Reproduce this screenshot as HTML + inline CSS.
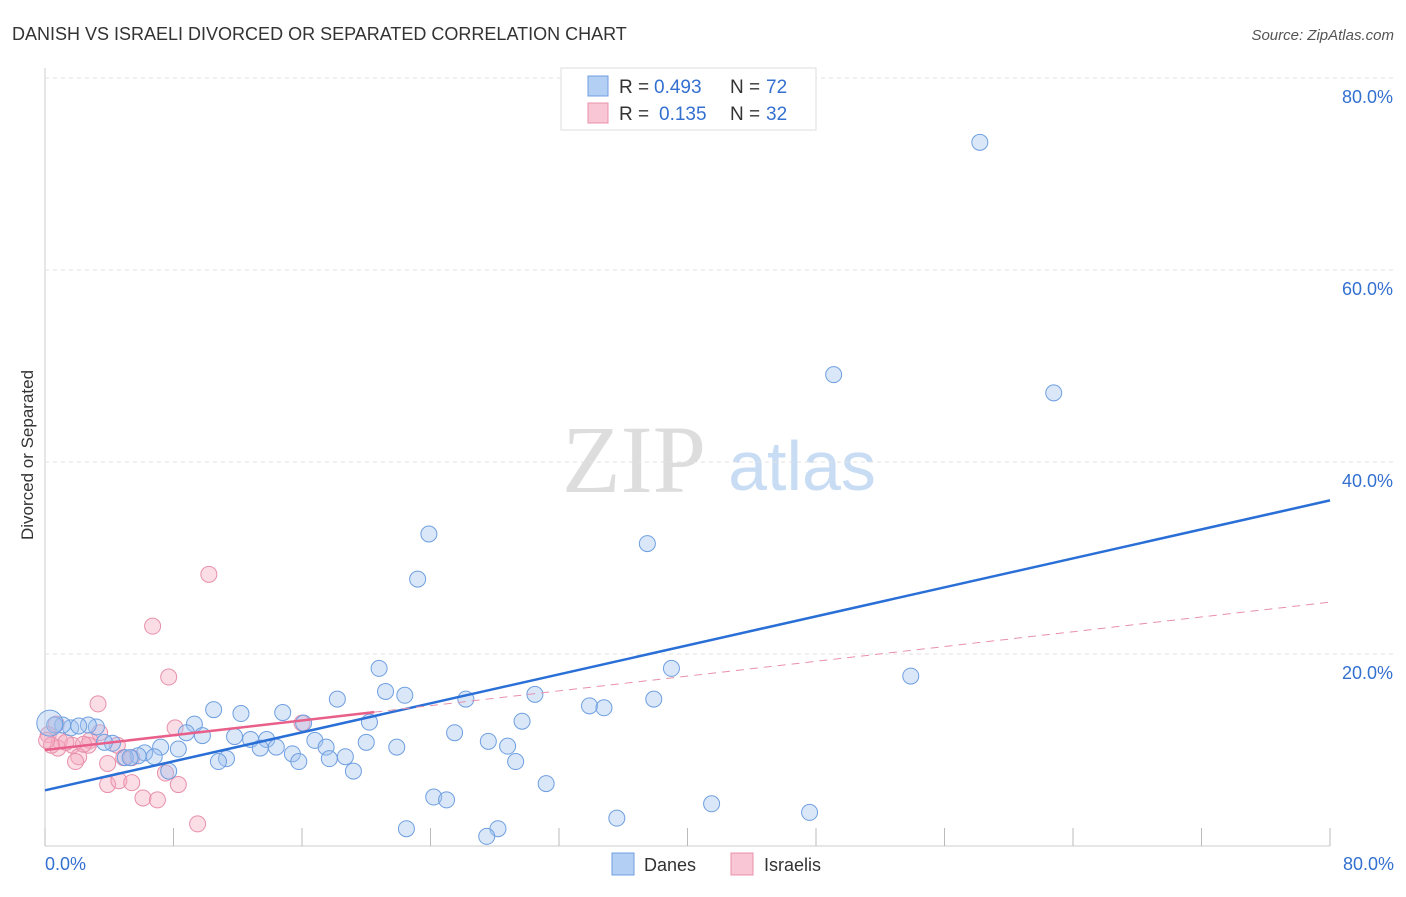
<!DOCTYPE html>
<html><head><meta charset="utf-8"><style>
body{margin:0;background:#fff;font-family:"Liberation Sans",sans-serif;}
</style></head><body>
<svg id="chart" width="1406" height="892" font-family="Liberation Sans, sans-serif">
<text x="12" y="40" font-size="18" fill="#333">DANISH VS ISRAELI DIVORCED OR SEPARATED CORRELATION CHART</text>
<text x="1394" y="40" font-size="15" fill="#555" font-style="italic" text-anchor="end">Source: ZipAtlas.com</text>
<text x="33" y="455" font-size="17" fill="#333" text-anchor="middle" transform="rotate(-90 33 455)">Divorced or Separated</text>
<g><text x="634" y="492" font-size="96" fill="#ddd" style="font-family:'Liberation Serif',serif" text-anchor="middle">ZIP</text><text x="802" y="490" font-size="70" fill="#c8dcf4" text-anchor="middle">atlas</text></g>
<g id="grid"></g><g id="ticks"></g><g id="marks"></g>
<g>
<rect x="561" y="68" width="255" height="62" fill="#fff" stroke="#ddd"/>
<rect x="588" y="76" width="20" height="20" fill="#b3cff4" stroke="#6f9fe0"/>
<text x="619" y="93" font-size="19" fill="#333">R =</text><text x="654" y="93" font-size="19" fill="#3470d0">0.493</text>
<text x="730" y="93" font-size="19" fill="#333">N =</text><text x="766" y="93" font-size="19" fill="#3470d0">72</text>
<rect x="588" y="103" width="20" height="20" fill="#f8c6d4" stroke="#e890aa"/>
<text x="619" y="120" font-size="19" fill="#333">R =</text><text x="659" y="120" font-size="19" fill="#3470d0">0.135</text>
<text x="730" y="120" font-size="19" fill="#333">N =</text><text x="766" y="120" font-size="19" fill="#3470d0">32</text>
</g>
<g>
<rect x="612" y="853" width="22" height="22" fill="#b3cff4" stroke="#6f9fe0"/><text x="644" y="871" font-size="18" fill="#333">Danes</text>
<rect x="731" y="853" width="22" height="22" fill="#f8c6d4" stroke="#e890aa"/><text x="764" y="871" font-size="18" fill="#333">Israelis</text>
</g>
<text x="45" y="870" font-size="18" fill="#3470d0">0.0%</text>
<text x="1394" y="870" font-size="18" fill="#3470d0" text-anchor="end">80.0%</text>
</svg>
<script>
const yTicks=[20,40,60,80];
const danesX=[58.2,49.1,62.8,23.9,37.5,23.2,39.0,53.9,20.8,21.2,22.4,18.2,26.2,30.5,33.9,34.8,37.9,10.5,12.2,14.8,16.1,20.2,29.7,9.3,8.8,9.8,11.8,12.8,13.8,16.8,20.0,25.5,27.6,28.8,21.9,17.5,14.4,13.4,15.4,18.7,17.7,15.8,11.3,10.8,8.3,7.2,6.2,5.8,6.8,5.0,5.3,4.2,3.7,3.2,2.7,1.6,1.1,0.6,7.7,19.2,29.3,31.2,24.2,25.0,41.5,47.6,35.6,22.5,28.2,27.5,2.1,0.3];
const danesY=[73.3,49.1,47.2,32.5,31.5,27.8,18.5,17.7,18.5,16.1,15.7,15.3,15.3,15.8,14.6,14.4,15.3,14.2,13.8,13.9,12.8,12.9,13.0,12.7,11.8,11.5,11.4,11.1,11.1,11.0,10.8,11.8,10.9,10.4,10.3,10.3,10.3,10.2,9.6,9.3,9.1,8.8,9.1,8.8,10.1,10.3,9.7,9.4,9.3,9.2,9.2,10.7,10.8,12.4,12.6,12.3,12.6,12.6,7.8,7.8,8.8,6.5,5.1,4.8,4.4,3.5,2.9,1.8,1.8,1.0,12.5,12.8];
const israelisX=[10.2,6.7,7.7,3.3,8.1,16.0,0.7,0.2,0.9,1.7,0.8,3.4,2.8,2.7,4.5,1.3,2.1,1.9,3.9,4.9,5.4,7.5,3.9,4.6,5.4,8.3,6.1,7.0,9.5,0.4,2.4,0.1];
const israelisY=[28.3,22.9,17.6,14.8,12.3,12.8,12.7,11.6,11.0,10.5,10.2,11.8,11.0,10.5,10.5,10.8,9.3,8.8,8.6,9.2,9.2,7.6,6.4,6.8,6.6,6.4,5.0,4.8,2.3,10.5,10.6,11.0];
const danesTrend=[5.8,36.0];
const israelisTrend=[10.0,25.4];
const NS='http://www.w3.org/2000/svg';
const xs=v=>45+v*(1285/80), ys=v=>846-v*9.6;
function mk(tag,attrs,parent){const e=document.createElementNS(NS,tag);for(const k in attrs)e.setAttribute(k,attrs[k]);document.getElementById(parent).appendChild(e);return e;}
let l=mk('line',{x1:45,y1:68,x2:45,y2:846,stroke:'#ccc'},'grid');


l=mk('line',{x1:45,y1:846,x2:1330,y2:846,stroke:'#ccc'},'grid');


yTicks.forEach(t=>{const g=mk('line',{x1:45,y1:ys(t),x2:1394,y2:ys(t),stroke:'#e2e2e2','stroke-dasharray':'4,4'},'grid');


const tx=mk('text',{x:1393,y:ys(t)+25,'font-size':18,fill:'#3470d0','text-anchor':'end'},'grid');tx.textContent=t.toFixed(1)+'%';

});
for(let i=0;i<=10;i++){const v=i*8;const t=mk('line',{x1:xs(v),y1:828,x2:xs(v),y2:846,stroke:'#bbb'},'ticks');

}
israelisX.forEach((x,i)=>{const c=mk('circle',{cx:xs(x),cy:ys(israelisY[i]),r:8,fill:'rgba(244,170,192,0.4)',stroke:'#e890aa','stroke-width':1},'marks');

});
danesX.forEach((x,i)=>{const c=mk('circle',{cx:xs(x),cy:ys(danesY[i]),r:i==danesX.length-1?13:8,fill:'rgba(160,195,240,0.4)',stroke:'#6f9fe0','stroke-width':1},'marks');

});
l=mk('line',{x1:xs(0),y1:ys(danesTrend[0]),x2:xs(80),y2:ys(danesTrend[1]),stroke:'#2a6fd6','stroke-width':2.5},'marks');


const pi=v=>israelisTrend[0]+(israelisTrend[1]-israelisTrend[0])*v/80;
l=mk('line',{x1:xs(0),y1:ys(pi(0)),x2:xs(20.5),y2:ys(pi(20.5)),stroke:'#e8608a','stroke-width':2.5},'marks');


l=mk('line',{x1:xs(20.5),y1:ys(pi(20.5)),x2:xs(80),y2:ys(pi(80)),stroke:'#e890aa','stroke-width':1,'stroke-dasharray':'8,6'},'marks');


</script>
</body></html>
